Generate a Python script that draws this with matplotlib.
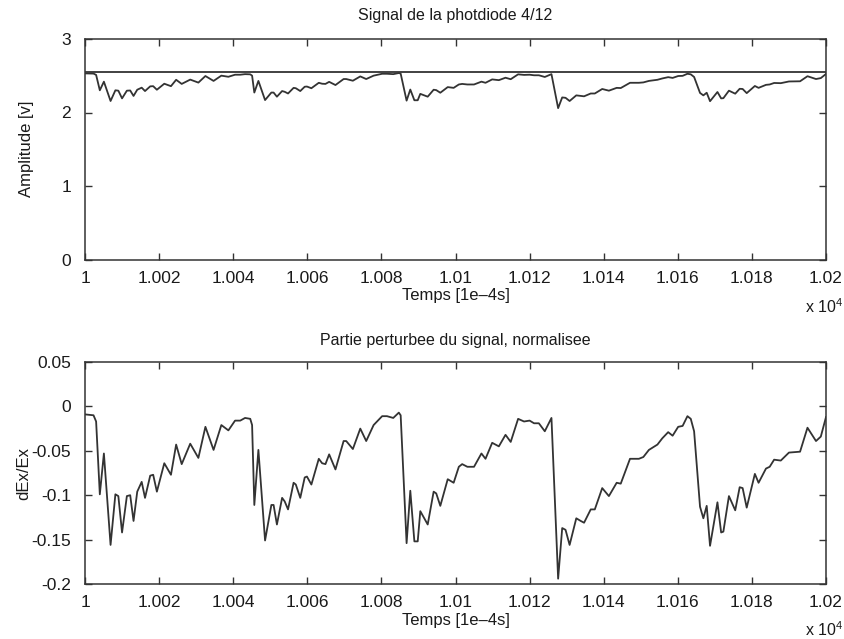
import matplotlib
matplotlib.use("Agg")
import matplotlib.pyplot as plt
import numpy as np

plt.rcParams["font.family"] = ["Liberation Sans", "DejaVu Sans"]
plt.rcParams["mathtext.fontset"] = "custom"
plt.rcParams["mathtext.rm"] = "Liberation Sans"
plt.rcParams["mathtext.it"] = "Liberation Sans"

# Time samples [1e-4 s] and the normalised perturbation dEx/Ex
temps = [
    10000.0, 10002.3, 10003.0, 10004.0, 10005.1, 10006.9, 10008.2, 10009.0,
    10010.0, 10011.3, 10012.2, 10013.1, 10014.1, 10015.3, 10016.2, 10017.6,
    10018.4, 10019.4, 10021.4, 10023.2, 10024.6, 10026.1, 10028.4, 10030.6,
    10032.5, 10034.7, 10036.8, 10038.7, 10040.5, 10041.9, 10043.2, 10044.6,
    10045.1, 10045.7, 10046.8, 10048.6, 10050.3, 10050.9, 10051.8, 10053.2,
    10053.9, 10054.8, 10056.3, 10056.9, 10058.1, 10059.3, 10059.9, 10061.1,
    10063.1, 10064.0, 10064.9, 10065.9, 10067.6, 10069.8, 10070.5, 10072.3,
    10074.3, 10075.9, 10077.9, 10080.2, 10081.5, 10083.2, 10084.7, 10085.2,
    10086.8, 10087.8, 10088.9, 10089.8, 10090.5, 10092.5, 10094.1, 10094.8,
    10095.9, 10097.9, 10099.5, 10100.9, 10101.8, 10103.2, 10105.0, 10107.0,
    10108.1, 10109.9, 10111.7, 10113.5, 10114.9, 10116.9, 10118.5, 10120.0,
    10121.2, 10122.5, 10124.1, 10125.9, 10127.7, 10128.8, 10129.7, 10130.8,
    10132.6, 10133.8, 10134.7, 10136.5, 10137.6, 10139.6, 10141.4, 10143.5,
    10144.6, 10147.1, 10149.5, 10150.7, 10152.2, 10154.5, 10155.8, 10157.4,
    10158.6, 10160.1, 10161.3, 10162.6, 10163.5, 10164.4, 10166.0, 10166.9,
    10167.8, 10168.7, 10170.7, 10171.7, 10172.3, 10173.8, 10175.5, 10176.7,
    10177.5, 10178.6, 10180.8, 10181.8, 10183.8, 10184.8, 10186.0, 10187.8,
    10190.0, 10193.0, 10195.0, 10197.3, 10198.6, 10200.0,
]
dex_ex = [
    -0.009, -0.010, -0.017, -0.099, -0.053, -0.156, -0.099, -0.101,
    -0.142, -0.101, -0.100, -0.129, -0.096, -0.085, -0.103, -0.078,
    -0.077, -0.096, -0.064, -0.077, -0.043, -0.065, -0.042, -0.058,
    -0.023, -0.049, -0.021, -0.027, -0.016, -0.016, -0.013, -0.014,
    -0.021, -0.111, -0.049, -0.151, -0.111, -0.111, -0.133, -0.103,
    -0.107, -0.116, -0.086, -0.088, -0.103, -0.080, -0.079, -0.088,
    -0.059, -0.064, -0.065, -0.054, -0.071, -0.039, -0.039, -0.048,
    -0.025, -0.039, -0.021, -0.011, -0.011, -0.013, -0.007, -0.010,
    -0.154, -0.095, -0.152, -0.152, -0.118, -0.133, -0.096, -0.098,
    -0.112, -0.082, -0.086, -0.068, -0.065, -0.068, -0.068, -0.053,
    -0.059, -0.041, -0.045, -0.032, -0.040, -0.014, -0.017, -0.016,
    -0.019, -0.019, -0.028, -0.013, -0.194, -0.137, -0.139, -0.156,
    -0.126, -0.129, -0.131, -0.116, -0.116, -0.092, -0.101, -0.086,
    -0.087, -0.059, -0.059, -0.057, -0.049, -0.043, -0.036, -0.029,
    -0.033, -0.023, -0.022, -0.011, -0.014, -0.028, -0.113, -0.126,
    -0.112, -0.157, -0.108, -0.142, -0.141, -0.101, -0.117, -0.091,
    -0.092, -0.114, -0.076, -0.086, -0.070, -0.068, -0.060, -0.061,
    -0.052, -0.051, -0.024, -0.039, -0.034, -0.012,
]

# Unperturbed level of the photodiode signal [V]
niveau_ref = 2.555

xticks = [10000, 10020, 10040, 10060, 10080, 10100, 10120, 10140, 10160, 10180, 10200]
xtick_labels = ["1", "1.002", "1.004", "1.006", "1.008", "1.01",
                "1.012", "1.014", "1.016", "1.018", "1.02"]
yticks_top = [0, 1, 2, 3]
yticks_bot = [0.05, 0, -0.05, -0.1, -0.15, -0.2]
ytick_labels_bot = ["0.05", "0", "-0.05", "-0.1", "-0.15", "-0.2"]

t = np.array(temps)
d = np.array(dex_ex)
amplitude = niveau_ref * (1.0 + d)

W, H = 844, 639
fig = plt.figure(figsize=(W / 100, H / 100), dpi=100)
fig.patch.set_facecolor("white")

ink = "#333333"
txt = "#1a1a1a"
fs_tick = 12.5
fs_lab = 12
fs_title = 11.5
AX_LEFT, AX_RIGHT = 85, 826

def axes_px(left, top, right, bottom):
    return fig.add_axes([left / W, 1 - bottom / H, (right - left) / W, (bottom - top) / H])

def style(ax):
    for s in ax.spines.values():
        s.set_color(ink)
        s.set_linewidth(1.1)
    ax.tick_params(direction="in", length=5, width=1.0, color=ink,
                   labelsize=fs_tick, labelcolor=txt, top=True, right=True)
    ax.tick_params(axis="x", pad=8)
    ax.tick_params(axis="y", pad=10)

def place_ylabel(ax, x_px):
    ax.yaxis.set_label_coords((x_px - AX_LEFT) / (AX_RIGHT - AX_LEFT), 0.5)

ax1 = axes_px(AX_LEFT, 39, AX_RIGHT, 259.5)
ax1.plot(t, amplitude, color=ink, lw=1.3)
ax1.axhline(niveau_ref, color=ink, lw=1.3)
ax1.set_xlim(10000, 10200)
ax1.set_ylim(0, 3)
ax1.set_xticks(xticks)
ax1.set_xticklabels(xtick_labels)
ax1.set_yticks(yticks_top)
style(ax1)
ax1.set_title("Signal de la photdiode 4/12", fontsize=fs_title, color=txt, pad=14)
ax1.set_xlabel("Temps [1e\u20134s]", fontsize=fs_lab, color=txt, labelpad=2)
ax1.set_ylabel("Amplitude [v]", fontsize=fs_lab, color=txt, va="center")
place_ylabel(ax1, 27)
fig.text(805 / W, 1 - 313 / H, r"x 10$^4$", fontsize=fs_lab - 0.5, color=txt,
         ha="left", va="baseline")

ax2 = axes_px(AX_LEFT, 362, AX_RIGHT, 584)
ax2.plot(t, d, color=ink, lw=1.3)
ax2.set_xlim(10000, 10200)
ax2.set_ylim(-0.2, 0.05)
ax2.set_xticks(xticks)
ax2.set_xticklabels(xtick_labels)
ax2.set_yticks(yticks_bot)
ax2.set_yticklabels(ytick_labels_bot)
style(ax2)
ax2.set_title("Partie perturbee du signal, normalisee", fontsize=fs_title, color=txt, pad=12)
ax2.set_xlabel("Temps [1e\u20134s]", fontsize=fs_lab, color=txt, labelpad=2)
ax2.set_ylabel("dEx/Ex", fontsize=fs_lab, color=txt, va="center")
place_ylabel(ax2, 24)
fig.text(805 / W, 1 - 636 / H, r"x 10$^4$", fontsize=fs_lab - 0.5, color=txt,
         ha="left", va="baseline")

fig.savefig("out.png", dpi=100, facecolor="white")
